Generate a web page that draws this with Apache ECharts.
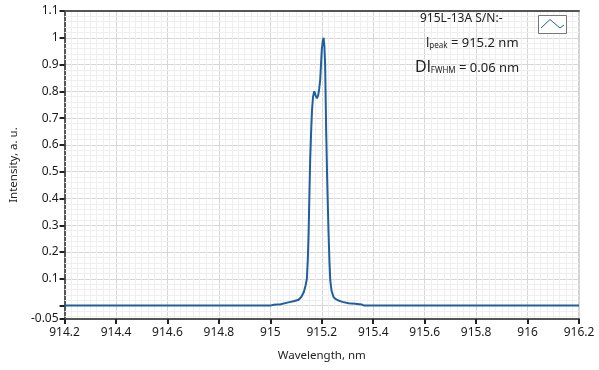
<!DOCTYPE html>
<html>
<head>
<meta charset="utf-8">
<script src="https://cdn.jsdelivr.net/npm/echarts@6/dist/echarts.min.js"></script>
<style>
html,body{margin:0;padding:0;background:#fff;}
#chart{width:599px;height:370px;}
</style>
</head>
<body>
<div id="chart"></div>
<script>
const seriesName = '915L-13A S/N:-';
const wavelength = [914.2, 915.0, 915.013, 915.04, 915.07, 915.09, 915.11, 915.12, 915.13, 915.137, 915.142, 915.146, 915.149, 915.152, 915.155, 915.159, 915.162, 915.166, 915.171, 915.176, 915.181, 915.186, 915.19, 915.194, 915.197, 915.2, 915.204, 915.207, 915.21, 915.213, 915.215, 915.217, 915.221, 915.226, 915.23, 915.233, 915.238, 915.246, 915.255, 915.265, 915.28, 915.304, 915.33, 915.356, 915.365, 916.2];
const intensity = [0, 0, 0.003, 0.005, 0.012, 0.016, 0.022, 0.032, 0.05, 0.075, 0.1, 0.18, 0.28, 0.42, 0.55, 0.66, 0.73, 0.78, 0.80, 0.785, 0.774, 0.785, 0.81, 0.845, 0.90, 0.955, 0.99, 1.0, 0.97, 0.90, 0.78, 0.655, 0.47, 0.28, 0.16, 0.094, 0.055, 0.031, 0.024, 0.019, 0.014, 0.009, 0.007, 0.004, 0, 0];
const yTicks = [-0.05, 0, 0.1, 0.2, 0.3, 0.4, 0.5, 0.6, 0.7, 0.8, 0.9, 1, 1.1];
const yLabels = [-0.05, 0.1, 0.2, 0.3, 0.4, 0.5, 0.6, 0.7, 0.8, 0.9, 1, 1.1];
const peakText = '915.2 nm';
const fwhmText = '0.06 nm';

const data = wavelength.map((w, i) => [w, intensity[i]]);
// minor horizontal grid every 0.02 between the major lines
const yMinor = [];
for (let k = -2; k <= 54; k++) { if (k % 5 !== 0) yMinor.push(+(k * 0.02).toFixed(2)); }

const FONT = 'Noto Sans';
const chart = echarts.init(document.getElementById('chart'), null, {renderer: 'canvas'});
chart.setOption({
  animation: false,
  backgroundColor: '#fff',
  grid: {left: 62, right: 20, top: 11, bottom: 51, show: true, borderColor: '#a0a0a0', borderWidth: 1},
  xAxis: [{
    type: 'value', min: 914.2, max: 916.2, interval: 0.2,
    name: 'Wavelength, nm', nameLocation: 'middle', nameGap: 31,
    nameTextStyle: {fontFamily: FONT, fontSize: 11.5, color: '#222'},
    axisLine: {show: true, onZero: false, lineStyle: {color: '#555', width: 2}},
    axisTick: {show: true, length: 5, inside: false, lineStyle: {color: '#222', width: 2}},
    axisLabel: {fontFamily: FONT, fontSize: 12, color: '#1a1a1a', margin: 8},
    splitLine: {show: true, lineStyle: {color: '#d6d6d6', width: 1}},
    minorTick: {show: false, splitNumber: 8},
    minorSplitLine: {show: true, lineStyle: {color: '#efefef', width: 1}}
  }, {
    type: 'value', position: 'top', min: 914.2, max: 916.2,
    axisLine: {show: true, onZero: false, lineStyle: {color: '#555', width: 2}},
    axisTick: {show: false}, axisLabel: {show: false}, splitLine: {show: false}
  }],
  yAxis: {
    type: 'value', min: -0.05, max: 1.1,
    name: 'Intensity, a. u.', nameLocation: 'middle', nameGap: 40, nameRotate: 90,
    nameTextStyle: {fontFamily: FONT, fontSize: 11.5, color: '#222'},
    axisLine: {show: true, onZero: false, lineStyle: {color: '#555', width: 2}},
    axisTick: {show: true, length: 5, customValues: yTicks, lineStyle: {color: '#222', width: 2}},
    axisLabel: {fontFamily: FONT, fontSize: 12, color: '#1a1a1a', margin: 6, customValues: yLabels,
      formatter: v => String(Math.round(v * 100) / 100)},
    splitLine: {show: true, lineStyle: {color: '#d6d6d6', width: 1}},
    minorSplitLine: {show: false}
  },
  series: [{
    name: 'grid', type: 'line', data: [], silent: true,
    markLine: {silent: true, symbol: 'none', label: {show: false}, animation: false,
      lineStyle: {color: '#efefef', width: 1, type: 'solid'},
      data: yMinor.map(v => ({yAxis: v}))},
    z: 0
  }, {
    name: seriesName, type: 'line', data: data, showSymbol: false, z: 5,
    lineStyle: {color: '#1f5f9e', width: 2}, itemStyle: {color: '#1f5f9e'}
  }],
  graphic: [
    {type: 'text', z: 100, left: 420, top: 13, style: {text: seriesName, fontFamily: FONT, fontSize: 12, fill: '#222'}},
    {type: 'rect', z: 100, shape: {x: 538.5, y: 15.5, width: 28, height: 18}, style: {fill: '#fff', stroke: '#777', lineWidth: 1}},
    {type: 'polyline', z: 101, shape: {points: [[541, 28], [550, 19.5], [560, 28], [564, 25]]}, style: {stroke: '#1f5f9e', lineWidth: 1, fill: null}},
    {type: 'text', z: 100, left: 426, top: 37, style: {
      text: '{a|l}{s|peak}{a| = ' + peakText + '}',
      rich: {a: {fontFamily: FONT, fontSize: 13, fill: '#222', verticalAlign: 'bottom'}, s: {fontFamily: FONT, fontSize: 8, fill: '#222', verticalAlign: 'bottom'}}
    }},
    {type: 'text', z: 100, left: 415, top: 59, style: {
      text: '{b|Dl}{s|FWHM}{a| = ' + fwhmText + '}',
      rich: {b: {fontFamily: FONT, fontSize: 16, fill: '#222', verticalAlign: 'bottom'}, a: {fontFamily: FONT, fontSize: 13, fill: '#222', verticalAlign: 'bottom'}, s: {fontFamily: FONT, fontSize: 8, fill: '#222', verticalAlign: 'bottom'}}
    }}
  ]
});
</script>
</body>
</html>
